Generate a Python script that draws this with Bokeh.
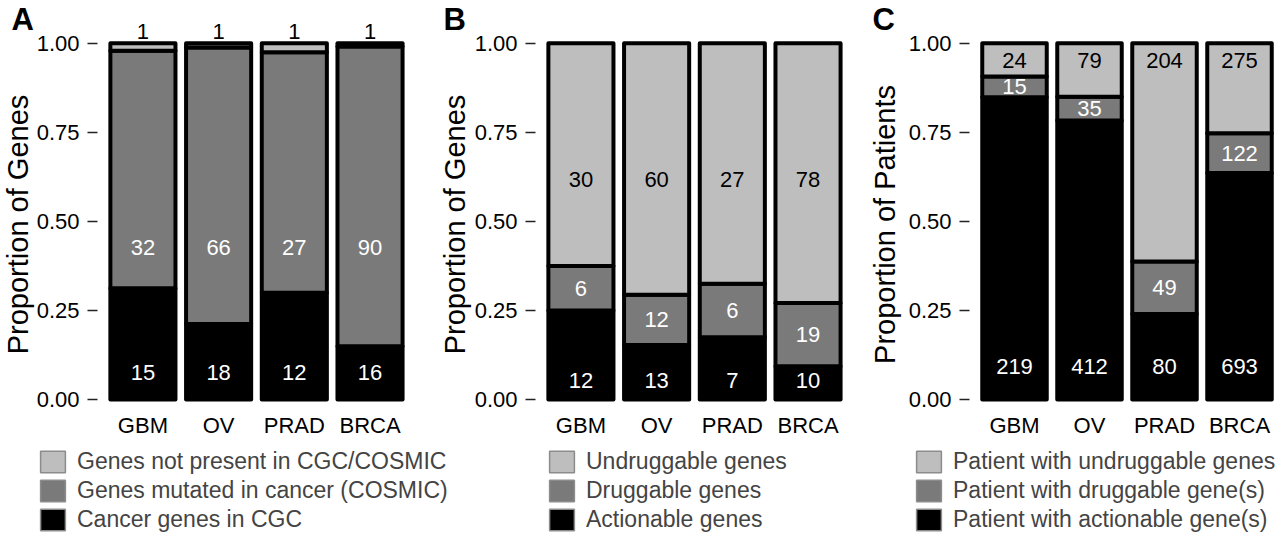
import math
from bokeh.plotting import figure
from bokeh.models import (ColumnDataSource, FixedTicker, PrintfTickFormatter,
                          Legend, LegendItem, Range1d, GridBox)
from bokeh.layouts import row
from bokeh.embed import file_html
from bokeh.resources import INLINE
from bokeh.core.properties import value

cancers = ["GBM", "OV", "PRAD", "BRCA"]

# A: genes by catalogue membership
cgc_genes = [15, 18, 12, 16]
cosmic_genes = [32, 66, 27, 90]
absent_genes = [1, 1, 1, 1]

# B: genes by druggability
actionable_genes = [12, 13, 7, 10]
druggable_genes = [6, 12, 6, 19]
undruggable_genes = [30, 60, 27, 78]

# C: patients by best available gene class
actionable_patients = [219, 412, 80, 693]
druggable_patients = [15, 35, 49, 122]
undruggable_patients = [24, 79, 204, 275]

panel_letters = ["A", "B", "C"]
y_titles = ["Proportion of Genes", "Proportion of Genes", "Proportion of Patients"]
legend_a = ["Genes not present in CGC/COSMIC", "Genes mutated in cancer (COSMIC)", "Cancer genes in CGC"]
legend_b = ["Undruggable genes", "Druggable genes", "Actionable genes"]
legend_c = ["Patient with undruggable genes", "Patient with druggable gene(s)", "Patient with actionable gene(s)"]

FONT = "Liberation Sans"
LIGHT, MID, DARK = "#BEBEBE", "#7A7A7A", "#000000"

# layout constants (pixels)
W, H = 1280, 536
PX_PER_UNIT = 358.0           # vertical pixels per proportion unit
Y_TOP_PX = 43.0               # pixel row of proportion 1.00
FRAME_H = 410
AXIS_H = 30
Y1 = 1.0 + Y_TOP_PX / PX_PER_UNIT
Y0 = Y1 - FRAME_H / PX_PER_UNIT


def panel(layers, colors, text_colors, label_y, width, left, frame_w, x_step):
    x_end = 0.4 + frame_w / x_step
    right = width - left - frame_w
    p = figure(width=width, height=FRAME_H + AXIS_H, x_range=Range1d(0.4, x_end),
               y_range=Range1d(Y0, Y1), output_backend="svg", toolbar_location=None,
               title=None, min_border_left=left, min_border_right=right,
               min_border_top=0, min_border_bottom=AXIS_H)
    p.outline_line_color = None
    p.grid.visible = False

    xs = list(range(1, len(cancers) + 1))
    totals = [sum(v) for v in zip(*layers)]
    base = [0.0] * len(xs)
    sources = []
    for counts, fc, tc, ly in zip(layers, colors, text_colors, label_y):
        frac = [c / t for c, t in zip(counts, totals)]
        top = [b + f for b, f in zip(base, frac)]
        src = ColumnDataSource(dict(x=xs, bottom=base, top=top))
        sources.append(src)
        p.vbar(x="x", bottom="bottom", top="top", width=0.86, source=src,
               fill_color=fc, line_color="black", line_width=4, line_join="round")
        ys = [(b + t) / 2 if ly is None else ly for b, t in zip(base, top)]
        p.text(x=xs, y=ys, text=[str(c) for c in counts], text_align="center",
               text_baseline="middle", text_font=value(FONT), text_font_size="22px",
               text_color=tc)
        base = top

    xa = p.xaxis[0]
    xa.ticker = FixedTicker(ticks=xs)
    xa.major_label_overrides = {i: n for i, n in zip(xs, cancers)}
    xa.major_tick_out = 0
    xa.major_tick_in = 0
    xa.minor_tick_line_color = None
    xa.axis_line_color = None
    xa.major_label_standoff = 4
    xa.major_label_text_font = FONT
    xa.major_label_text_font_size = "22px"
    xa.major_label_text_color = "black"

    ya = p.yaxis[0]
    ya.ticker = FixedTicker(ticks=[0, 0.25, 0.5, 0.75, 1.0])
    ya.formatter = PrintfTickFormatter(format="%.2f")
    ya.major_tick_out = 10
    ya.major_tick_in = 0
    ya.major_tick_line_color = "#222222"
    ya.major_tick_line_width = 1.5
    ya.minor_tick_line_color = None
    ya.axis_line_color = None
    ya.major_label_standoff = 8
    ya.major_label_text_font = FONT
    ya.major_label_text_font_size = "22px"
    ya.major_label_text_color = "black"
    return p, sources


pa, src_a = panel([cgc_genes, cosmic_genes, absent_genes],
                  [DARK, MID, LIGHT], ["white", "white", "black"], [0.075, 0.427, 1.032],
                  width=441, left=97, frame_w=318, x_step=75.7)
pb, src_b = panel([actionable_genes, druggable_genes, undruggable_genes],
                  [DARK, MID, LIGHT], ["white", "white", "black"], [0.053, None, 0.617],
                  width=429, left=94, frame_w=318, x_step=75.7)
pc, src_c = panel([actionable_patients, druggable_patients, undruggable_patients],
                  [DARK, MID, LIGHT], ["white", "white", "black"], [0.092, None, 0.953],
                  width=410, left=99, frame_w=311, x_step=75.0)

# transparent page-sized layer (pixel coordinates, y downwards) for the panel
# letters, the rotated y titles and the three legends
ov = figure(width=W, height=H, x_range=Range1d(0, W), y_range=Range1d(H, 0),
            output_backend="svg", toolbar_location=None, title=None,
            x_axis_location=None, y_axis_location=None,
            min_border_left=0, min_border_right=0, min_border_top=0, min_border_bottom=0)
ov.outline_line_color = None
ov.grid.visible = False
ov.background_fill_alpha = 0
ov.border_fill_alpha = 0

ov.text(x=[11, 443, 872], y=[18.5] * 3, text=panel_letters, text_align="left",
        text_baseline="middle", text_font=value(FONT), text_font_style="bold",
        text_font_size="31px", text_color="black")

ov.text(x=[17.5, 454, 884], y=[224] * 3, text=y_titles, angle=math.pi / 2,
        text_align="center", text_baseline="middle", text_font=value(FONT),
        text_font_size="29px", text_color="black")

LEG_H = 3 * 27 + 2 * 2
LEG_TOP = 448
for labels, srcs, lx in [(legend_a, src_a, 37), (legend_b, src_b, 546), (legend_c, src_c, 913)]:
    items = []
    for lbl, fc, src in zip(labels, [LIGHT, MID, DARK], list(reversed(srcs))):
        r = ov.vbar(x="x", bottom="bottom", top="top", width=0.5, source=src,
                    fill_color=fc, line_color="#8C8C8C", line_width=1.5, visible=False)
        items.append(LegendItem(label=lbl, renderers=[r]))
    leg = Legend(items=items, location=(lx, H - LEG_TOP - LEG_H), orientation="vertical",
                 glyph_width=31, glyph_height=27, label_height=27, spacing=2,
                 label_standoff=9, label_text_font=FONT, label_text_font_size="23px",
                 label_text_baseline="middle", padding=0, margin=0,
                 border_line_color=None, background_fill_alpha=0)
    ov.add_layout(leg, "center")

page = GridBox(children=[(row(pa, pb, pc), 0, 0), (ov, 0, 0)])
open("out.html", "w").write(file_html(page, INLINE))
